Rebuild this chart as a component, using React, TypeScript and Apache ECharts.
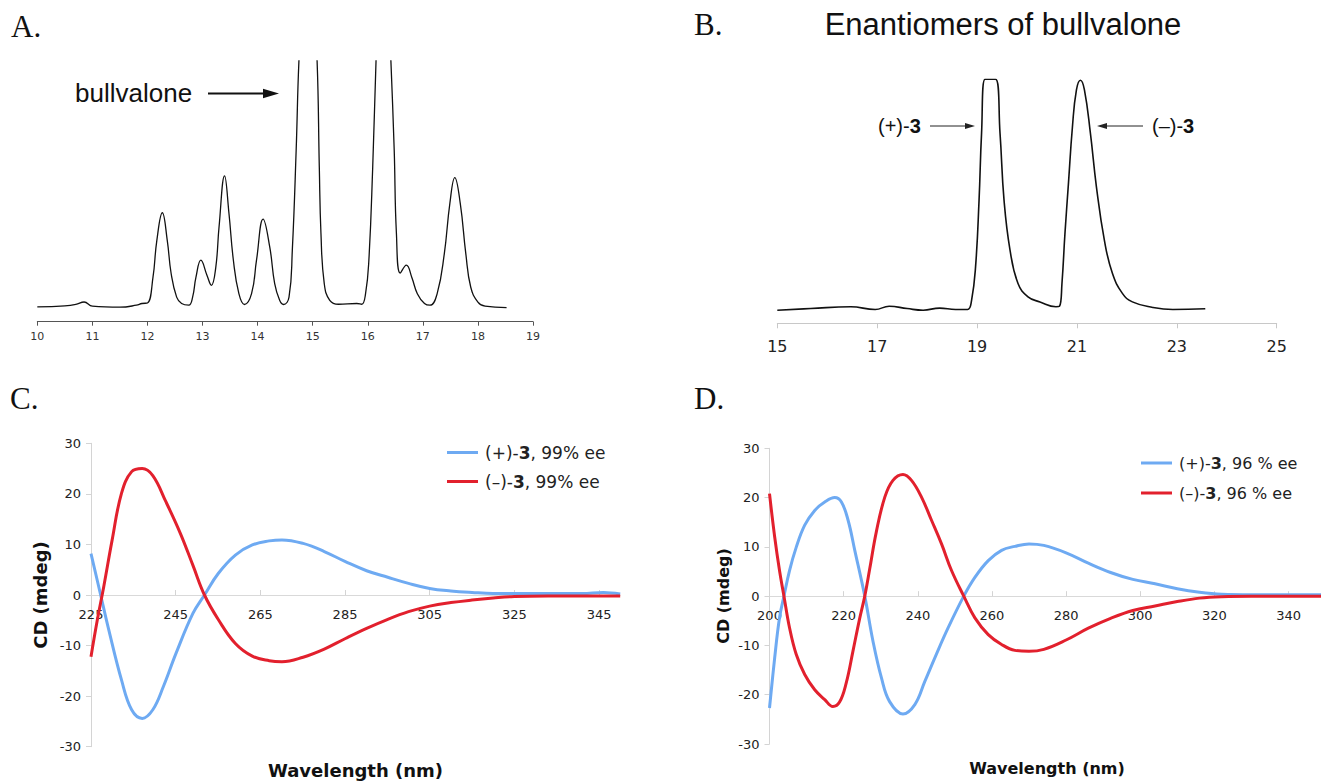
import React, { useEffect, useRef } from 'react';
import * as echarts from 'echarts';

// ---------- Panel A: GC trace ----------
const aTime = [10.0, 10.5, 10.7, 10.85, 11.0, 11.5, 11.8, 11.9, 12.0, 12.1, 12.17, 12.27, 12.36, 12.43, 12.53, 12.62, 12.75, 12.82, 12.88, 12.97, 13.08, 13.16, 13.24, 13.3, 13.4, 13.48, 13.56, 13.66, 13.76, 13.89, 13.98, 14.1, 14.22, 14.31, 14.4, 14.47, 14.57, 14.63, 14.7, 14.75, 14.92, 15.08, 15.12, 15.15, 15.21, 15.31, 15.47, 15.8, 15.89, 15.96, 16.02, 16.09, 16.15, 16.28, 16.42, 16.48, 16.52, 16.59, 16.7, 16.8, 16.9, 17.03, 17.13, 17.26, 17.39, 17.49, 17.58, 17.68, 17.78, 17.87, 18.0, 18.13, 18.52];
const aSignal = [0, 0.4, 1.0, 2.0, 0.3, -0.1, 0.7, 1.4, 1.6, 12, 27, 38.3, 27, 13.6, 4, 1.4, 0.7, 4, 12, 19, 12.9, 8.8, 16, 32.6, 53.3, 38, 19, 5.4, 1, 5.4, 19, 35.7, 24.4, 9.5, 2.7, 1, 4, 23, 63.8, 100, 180, 100, 57, 30, 9.5, 2.7, 1.1, 1.4, 1.1, 5.4, 19, 57, 100, 180, 100, 63.8, 30, 13.8, 17, 12, 5.4, 1.4, 0.7, 5.4, 21.7, 42, 52.6, 42, 21.7, 8, 2, 0.3, -0.3];
const aCutMarks = [14.48, 15.47];

// ---------- Panel B: chiral trace ----------
const bTime = [15.0, 15.67, 16.47, 16.96, 17.24, 17.6, 17.92, 18.25, 18.57, 18.81, 18.89, 18.97, 19.04, 19.09, 19.16, 19.37, 19.46, 19.54, 19.66, 19.82, 20.02, 20.26, 20.58, 20.65, 20.7, 20.76, 20.83, 20.91, 20.99, 21.07, 21.15, 21.27, 21.39, 21.55, 21.71, 21.91, 22.11, 22.52, 22.92, 23.57];
const bSignal = [-0.3, 0.4, 1.2, 0, 1.4, 0.4, -0.3, 0.6, 0, 0, 4, 18.5, 47.5, 76.5, 100, 100, 76.5, 47.5, 25.8, 11.3, 5.5, 3.3, 1.2, 1.4, 11.3, 33, 54.8, 79.4, 95.4, 99.6, 95.4, 76.5, 53.3, 30, 15.7, 7, 3.3, 0.9, 0, 0.3];

// ---------- Panel C: CD spectra, 99% ee ----------
const cPlusWl = [225, 227.2, 229.2, 232.2, 234.6, 237.1, 239.6, 242.1, 245.1, 249.1, 251.8, 255.1, 259.1, 263.1, 267.1, 270.1, 275.1, 280.1, 285.1, 290.1, 295.1, 300, 305, 310, 315, 320, 325, 333, 341, 346, 350];
const cPlusCd = [8.2, 0.3, -6.9, -16.8, -22.7, -24.4, -22.7, -18.1, -11.5, -3.6, 0, 4.3, 7.9, 9.9, 10.7, 10.9, 10.2, 8.6, 6.6, 4.8, 3.5, 2.3, 1.3, 0.8, 0.5, 0.3, 0.3, 0.3, 0.3, 0.5, 0.2];
const cMinusWl = [225, 226.5, 228, 230, 232.2, 234.6, 237.1, 239.6, 242.6, 246.1, 249.1, 251.8, 255.1, 259.1, 263.1, 267.1, 270.1, 275.1, 280.1, 285.1, 290.1, 295.1, 300, 305, 310, 315, 320, 325, 333, 341, 350];
const cMinusCd = [-12.2, -4.9, 1.6, 10.9, 20.1, 24.4, 25.0, 23.6, 18.6, 12.2, 5.8, 0, -4.9, -9.6, -12.1, -13.0, -13.2, -12.3, -10.7, -8.6, -6.6, -4.8, -3.3, -2.2, -1.5, -1.0, -0.6, -0.3, -0.2, -0.2, -0.2];
const cXTicks = [225, 245, 265, 285, 305, 325, 345];

// ---------- Panel D: CD spectra, 96% ee ----------
const dPlusWl = [200, 201.4, 202.7, 203.9, 205.4, 207.2, 209.5, 212.2, 214.9, 217.6, 219.4, 221.2, 223, 225.7, 227.9, 230.2, 232.4, 236, 239.2, 241.9, 245, 248.2, 252.4, 255.4, 259, 262.6, 266.2, 270, 274, 280, 286, 292, 298, 304, 310, 316, 322, 330, 340, 349];
const dPlusCd = [-22.7, -12.5, -4.4, 0, 5.2, 9.9, 14.4, 17.4, 19.1, 20, 19.1, 15.4, 9.3, 0, -9.1, -16.6, -21.4, -23.9, -22, -17.3, -11.8, -6.4, 0, 3.8, 7.2, 9.3, 10.1, 10.6, 10.3, 8.8, 6.7, 4.8, 3.4, 2.5, 1.5, 0.8, 0.4, 0.3, 0.3, 0.3];
const dMinusWl = [200, 201.4, 202.7, 203.9, 205.4, 207.2, 209.5, 212.2, 214.9, 217.1, 218.9, 220.7, 222.5, 224.3, 225.7, 227, 228.8, 231.1, 233.3, 236, 238.3, 241, 243.7, 246.4, 249.1, 252.4, 255.4, 259, 262.6, 266.2, 270, 274, 280, 286, 292, 298, 304, 310, 316, 322, 330, 340, 349];
const dMinusCd = [20.8, 12, 5.2, 0, -6.4, -11.8, -15.9, -19, -21, -22.4, -21.5, -17.6, -11.2, -4.6, 0, 5.4, 13.0, 20.1, 23.5, 24.7, 23.5, 20.1, 15.4, 10.6, 5.2, 0, -4.4, -7.8, -9.8, -11, -11.2, -10.8, -8.9, -6.5, -4.5, -2.9, -2.0, -1.1, -0.4, -0.1, 0, 0, 0];
const dXTicks = [200, 220, 240, 260, 280, 300, 320, 340];

const cdYTicks = [-30, -20, -10, 0, 10, 20, 30];

const cPlusName = '(+)-3, 99% ee';
const cMinusName = '(–)-3, 99% ee';
const dPlusName = '(+)-3, 96 % ee';
const dMinusName = '(–)-3, 96 % ee';

const BLUE = '#6eaaf2';
const RED = '#e2202d';
const SANS = '"DejaVu Sans", Verdana, sans-serif';
const ARIAL = '"Liberation Sans", Arial, sans-serif';
const SERIF = '"Liberation Serif", "Times New Roman", serif';

const C_GRID = { left: 91, top: 443.3, width: 529.2, height: 303.4 };
const D_GRID = { left: 769.5, top: 448.3, width: 552.4, height: 295.7 };

const zip = (xs: number[], ys: number[]) => xs.map((x, i) => [x, ys[i]]);

const legendFormatter = (name: string) => {
  const i = name.indexOf('3');
  return `{a|${name.slice(0, i)}}{b|3}{a|${name.slice(i + 1)}}`;
};

const makeLegend = (name: string, left: number, top: number, fontSize: number) => ({
  show: true,
  left,
  top,
  orient: 'vertical',
  padding: 0,
  itemWidth: 31,
  itemHeight: 3,
  icon: 'rect',
  selectedMode: false,
  data: [{ name, icon: 'rect' }],
  formatter: legendFormatter,
  textStyle: {
    fontFamily: SANS,
    fontSize,
    color: '#222',
    padding: [0, 0, 0, 2],
    rich: {
      a: { fontFamily: SANS, fontSize, color: '#222', lineHeight: 20 },
      b: { fontFamily: SANS, fontSize, color: '#222', fontWeight: 'bold', lineHeight: 20 },
    },
  },
});

const cdYAxis = (gridIndex: number) => ({
  gridIndex,
  type: 'value',
  min: -30,
  max: 30,
  interval: 10,
  axisLine: { show: true, onZero: false, lineStyle: { color: '#d4d4d4', width: 1 } },
  axisTick: { show: true, inside: false, length: 5, lineStyle: { color: '#d4d4d4' } },
  axisLabel: { show: true, margin: 10, fontSize: 13, fontFamily: SANS, color: '#222', customValues: cdYTicks },
  splitLine: { show: false },
});

// the x axis sits on the zero line, i.e. half-way up the grid (y range is symmetric -30..30)
const cdXAxis = (gridIndex: number, min: number, max: number, ticks: number[], gridHeight: number) => ({
  gridIndex,
  type: 'value',
  min,
  max,
  interval: 20,
  position: 'bottom',
  offset: -gridHeight / 2,
  axisLine: { show: true, onZero: false, lineStyle: { color: '#d9d9d9', width: 1 } },
  axisTick: { show: true, inside: true, length: 5, lineStyle: { color: '#d4d4d4' }, customValues: ticks },
  axisLabel: { show: true, margin: 13, fontSize: 13, fontFamily: SANS, color: '#222', customValues: ticks },
  splitLine: { show: false },
});

const txt = (text: string, x: number, y: number, font: any, extra: any = {}) => ({
  type: 'text',
  x,
  y,
  silent: true,
  ...extra,
  style: {
    text,
    fill: '#111',
    textAlign: 'left',
    textVerticalAlign: 'middle',
    ...font,
  },
});

const option: any = {
  animation: false,
  backgroundColor: '#ffffff',
  grid: [
    { left: 37.3, top: 61, width: 495.7, height: 260.7, containLabel: false, outerBoundsMode: 'none' },
    { left: 777.3, top: 79.3, width: 499.4, height: 244, containLabel: false, outerBoundsMode: 'none' },
    { ...C_GRID, containLabel: false, outerBoundsMode: 'none' },
    { ...D_GRID, containLabel: false, outerBoundsMode: 'none' },
  ],
  xAxis: [
    {
      gridIndex: 0,
      type: 'value',
      min: 10,
      max: 19,
      interval: 1,
      axisLine: { show: true, onZero: false, lineStyle: { color: '#555', width: 1 } },
      axisTick: { show: true, length: 4, lineStyle: { color: '#555' } },
      axisLabel: { margin: 9, fontSize: 11, fontFamily: SANS, color: '#333' },
      splitLine: { show: false },
    },
    {
      gridIndex: 1,
      type: 'value',
      min: 15,
      max: 25,
      interval: 2,
      axisLine: { show: true, onZero: false, lineStyle: { color: '#c8c8c8', width: 1 } },
      axisTick: { show: true, length: 5, lineStyle: { color: '#c8c8c8' } },
      axisLabel: { margin: 15, fontSize: 16, fontFamily: SANS, color: '#222' },
      splitLine: { show: false },
    },
    cdXAxis(2, 225, 350, cXTicks, C_GRID.height),
    cdXAxis(3, 200, 349, dXTicks, D_GRID.height),
  ],
  yAxis: [
    { gridIndex: 0, type: 'value', min: -6, max: 100, show: false, axisLine: { onZero: false }, splitLine: { show: false } },
    { gridIndex: 1, type: 'value', min: -6, max: 100, show: false, axisLine: { onZero: false }, splitLine: { show: false } },
    cdYAxis(2),
    cdYAxis(3),
  ],
  legend: [
    makeLegend(cPlusName, 447, 444, 17),
    makeLegend(cMinusName, 447, 473, 17),
    makeLegend(dPlusName, 1141, 455, 16),
    makeLegend(dMinusName, 1141, 485, 16),
  ],
  series: [
    {
      name: 'GC trace',
      type: 'line',
      xAxisIndex: 0,
      yAxisIndex: 0,
      data: zip(aTime, aSignal),
      smooth: 0.45,
      showSymbol: false,
      symbol: 'none',
      clip: true,
      lineStyle: { color: '#111', width: 1.3 },
      markLine: {
        silent: true,
        symbol: ['none', 'none'],
        label: { show: false },
        lineStyle: { color: '#888', type: [6, 3], width: 1.5 },
        data: aCutMarks.map((x) => [{ coord: [x, -4] }, { coord: [x, 101] }]),
      },
    },
    {
      name: 'Chiral trace',
      type: 'line',
      xAxisIndex: 1,
      yAxisIndex: 1,
      data: zip(bTime, bSignal),
      smooth: 0.45,
      showSymbol: false,
      symbol: 'none',
      clip: true,
      lineStyle: { color: '#111', width: 1.6 },
    },
    {
      name: cPlusName,
      type: 'line',
      xAxisIndex: 2,
      yAxisIndex: 2,
      data: zip(cPlusWl, cPlusCd),
      smooth: 0.4,
      showSymbol: false,
      symbol: 'none',
      color: BLUE,
      lineStyle: { color: BLUE, width: 3 },
    },
    {
      name: cMinusName,
      type: 'line',
      xAxisIndex: 2,
      yAxisIndex: 2,
      data: zip(cMinusWl, cMinusCd),
      smooth: 0.4,
      showSymbol: false,
      symbol: 'none',
      color: RED,
      lineStyle: { color: RED, width: 3 },
    },
    {
      name: dPlusName,
      type: 'line',
      xAxisIndex: 3,
      yAxisIndex: 3,
      data: zip(dPlusWl, dPlusCd),
      smooth: 0.4,
      showSymbol: false,
      symbol: 'none',
      color: BLUE,
      lineStyle: { color: BLUE, width: 3 },
    },
    {
      name: dMinusName,
      type: 'line',
      xAxisIndex: 3,
      yAxisIndex: 3,
      data: zip(dMinusWl, dMinusCd),
      smooth: 0.4,
      showSymbol: false,
      symbol: 'none',
      color: RED,
      lineStyle: { color: RED, width: 3 },
    },
  ],
  graphic: [
    txt('A.', 11, 26, { fontFamily: SERIF, fontSize: 31 }),
    txt('B.', 694, 24, { fontFamily: SERIF, fontSize: 31 }),
    txt('C.', 10, 398, { fontFamily: SERIF, fontSize: 31 }),
    txt('D.', 694, 398, { fontFamily: SERIF, fontSize: 31 }),
    txt('bullvalone', 75, 92.7, { fontFamily: ARIAL, fontSize: 26 }),
    { type: 'line', silent: true, shape: { x1: 208, y1: 93.5, x2: 265, y2: 93.5 }, style: { stroke: '#111', lineWidth: 2 } },
    { type: 'polygon', silent: true, shape: { points: [[263, 88.8], [279, 93.5], [263, 98.2]] }, style: { fill: '#111' } },
    txt('Enantiomers of bullvalone', 1003, 24.5, { fontFamily: ARIAL, fontSize: 31, textAlign: 'center' }),
    {
      type: 'text',
      x: 878,
      y: 126,
      silent: true,
      style: {
        text: '{n|(+)-}{b|3}',
        textVerticalAlign: 'middle',
        rich: {
          n: { fontFamily: ARIAL, fontSize: 20, fill: '#111' },
          b: { fontFamily: ARIAL, fontSize: 20, fontWeight: 'bold', fill: '#111' },
        },
      },
    },
    { type: 'line', silent: true, shape: { x1: 930, y1: 126, x2: 968, y2: 126 }, style: { stroke: '#222', lineWidth: 1 } },
    { type: 'polygon', silent: true, shape: { points: [[965, 123], [975, 126], [965, 129]] }, style: { fill: '#222' } },
    {
      type: 'text',
      x: 1152,
      y: 126,
      silent: true,
      style: {
        text: '{n|(–)-}{b|3}',
        textVerticalAlign: 'middle',
        rich: {
          n: { fontFamily: ARIAL, fontSize: 20, fill: '#111' },
          b: { fontFamily: ARIAL, fontSize: 20, fontWeight: 'bold', fill: '#111' },
        },
      },
    },
    { type: 'line', silent: true, shape: { x1: 1143, y1: 126, x2: 1104, y2: 126 }, style: { stroke: '#222', lineWidth: 1 } },
    { type: 'polygon', silent: true, shape: { points: [[1107, 123], [1097, 126], [1107, 129]] }, style: { fill: '#222' } },
    txt('Wavelength (nm)', 355.5, 770, { fontFamily: SANS, fontSize: 18, fontWeight: 'bold', textAlign: 'center' }),
    txt('CD (mdeg)', 40, 595, { fontFamily: SANS, fontSize: 18, fontWeight: 'bold', textAlign: 'center' }, { rotation: Math.PI / 2 }),
    txt('Wavelength (nm)', 1047, 768, { fontFamily: SANS, fontSize: 16, fontWeight: 'bold', textAlign: 'center' }),
    txt('CD (mdeg)', 723, 596, { fontFamily: SANS, fontSize: 16, fontWeight: 'bold', textAlign: 'center' }, { rotation: Math.PI / 2 }),
  ],
};

export default function App() {
  const ref = useRef<HTMLDivElement>(null);
  useEffect(() => {
    if (!ref.current) return;
    const chart = echarts.init(ref.current, null, { renderer: 'svg' });
    chart.setOption(option);
    return () => chart.dispose();
  }, []);
  return (
    <div
      ref={ref}
      style={{ position: 'fixed', left: 0, top: 0, width: 1321, height: 781, background: '#fff' }}
    />
  );
}
